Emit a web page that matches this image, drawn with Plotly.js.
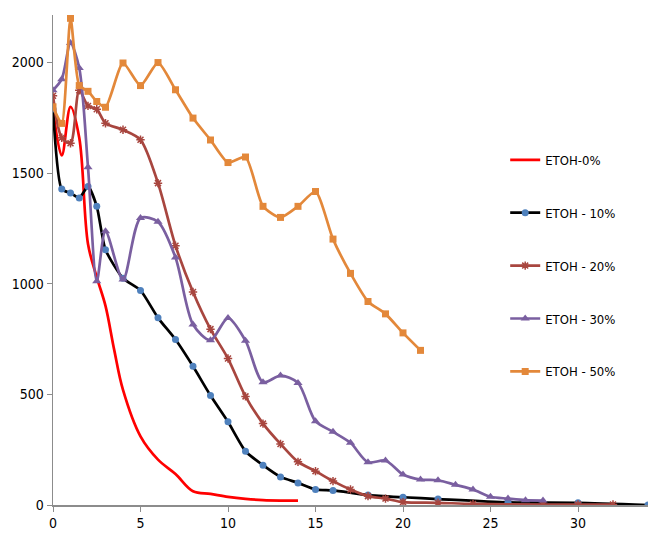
<!DOCTYPE html>
<html>
<head>
<meta charset="utf-8">
<script src="https://cdn.plot.ly/plotly-3.0.1.min.js"></script>
<style>
  html, body { margin: 0; padding: 0; background: #ffffff; }
  #chart { width: 648px; height: 535px; }
</style>
</head>
<body>
<div id="chart"></div>
<script>
// Time (x) and response (y) for each ethanol concentration
const x0  = [0, 0.5, 1, 1.5, 2, 2.5, 3, 3.5, 4, 5, 6, 7, 8, 9, 10, 11, 12, 13, 14];
const y0  = [1790, 1580, 1800, 1660, 1180, 1030, 900, 700, 520, 310, 205, 140, 62, 50, 37, 28, 22, 20, 20];

const x10 = [0, 0.5, 1, 1.5, 2, 2.5, 3, 4, 5, 6, 7, 8, 9, 10, 11, 12, 13, 14, 15, 16, 18, 20, 22, 26, 30, 34];
const y10 = [1790, 1428, 1410, 1388, 1440, 1350, 1154, 1025, 970, 846, 748, 627, 495, 376, 243, 180, 127, 100, 70, 66, 45, 35, 27, 12, 10, 0];

const x20 = [0, 0.5, 1, 1.5, 2, 2.5, 3, 4, 5, 6, 7, 8, 9, 10, 11, 12, 13, 14, 15, 16, 17, 18, 19, 20, 22, 24, 28, 30, 32];
const y20 = [1850, 1660, 1635, 1875, 1804, 1789, 1726, 1696, 1651, 1455, 1172, 963, 795, 662, 491, 368, 276, 195, 153, 108, 70, 40, 29, 13, 10, 5, 2, 2, 2];

const x30 = [0, 0.5, 1, 1.5, 2, 2.5, 3, 4, 5, 6, 7, 8, 9, 10, 11, 12, 13, 14, 15, 16, 17, 18, 19, 20, 21, 22, 23, 24, 25, 26, 27, 28];
const y30 = [1875, 1925, 2088, 1975, 1527, 1011, 1237, 1019, 1297, 1280, 1119, 816, 745, 845, 743, 555, 585, 552, 379, 331, 281, 193, 201, 138, 115, 112, 91, 70, 37, 29, 22, 20];

const x50 = [0, 0.5, 1, 1.5, 2, 2.5, 3, 4, 5, 6, 7, 8, 9, 10, 11, 12, 13, 14, 15, 16, 17, 18, 19, 20, 21];
const y50 = [1800, 1725, 2200, 1896, 1870, 1824, 1798, 1998, 1896, 2000, 1877, 1749, 1650, 1548, 1573, 1350, 1300, 1350, 1417, 1202, 1047, 920, 864, 778, 699];

const names = ['ETOH-0%', 'ETOH - 10%', 'ETOH - 20%', 'ETOH - 30%', 'ETOH - 50%'];
const yTicks = [0, 500, 1000, 1500, 2000];

const FONT = '"Liberation Sans Narrow", "DejaVu Sans Condensed", "Arial Narrow", sans-serif';

function series(i, xs, ys, lineColor, marker, smoothing) {
  const t = {
    x: xs, y: ys, name: names[i], type: 'scatter',
    mode: marker ? 'lines+markers' : 'lines',
    legendgroup: 'g' + i,
    line: { color: lineColor, width: 2.7, shape: 'spline', smoothing: smoothing }
  };
  if (marker) t.marker = marker;
  return t;
}

const traces = [
  series(0, x0, y0, '#ff0000', null, 1),
  series(1, x10, y10, '#000000', { symbol: 'circle', size: 7, color: '#4f81bd' }, 0.6),
  series(2, x20, y20, '#a8463f', { symbol: 'asterisk-open', size: 7, color: '#a8463f', line: { color: '#a8463f', width: 1.5 } }, 0.8),
  series(3, x30, y30, '#7a5fa0', { symbol: 'triangle-up', size: 8, color: '#7a5fa0' }, 0.8),
  series(4, x50, y50, '#e3883a', { symbol: 'square', size: 7, color: '#e3883a' }, 0.6)
];

const layout = {
  width: 648, height: 535,
  margin: { l: 53, r: 0, t: 15, b: 30, pad: 0 },
  paper_bgcolor: '#ffffff', plot_bgcolor: '#ffffff',
  font: { family: FONT, size: 14, color: '#000000' },
  showlegend: true,
  legend: {
    x: 0.76, y: 0.735, xanchor: 'left', yanchor: 'top',
    tracegroupgap: 33,
    bgcolor: 'rgba(0,0,0,0)',
    font: { family: FONT, size: 13, color: '#000000' }
  },
  xaxis: {
    range: [0, 34], dtick: 5, tick0: 0,
    showgrid: false, zeroline: false,
    showline: true, linecolor: '#8c8c8c', linewidth: 1.5,
    ticks: 'outside', ticklen: 5, tickcolor: '#8c8c8c',
    tickfont: { family: FONT, size: 14, color: '#000000' }
  },
  yaxis: {
    range: [0, 2215], tickvals: yTicks, ticktext: yTicks.map(String),
    showgrid: false, zeroline: false,
    showline: true, linecolor: '#8c8c8c', linewidth: 1.5,
    ticks: 'outside', ticklen: 5, tickcolor: '#8c8c8c',
    tickfont: { family: FONT, size: 14, color: '#000000' }
  }
};

Plotly.newPlot('chart', traces, layout, { displayModeBar: false, staticPlot: true });
</script>
</body>
</html>
